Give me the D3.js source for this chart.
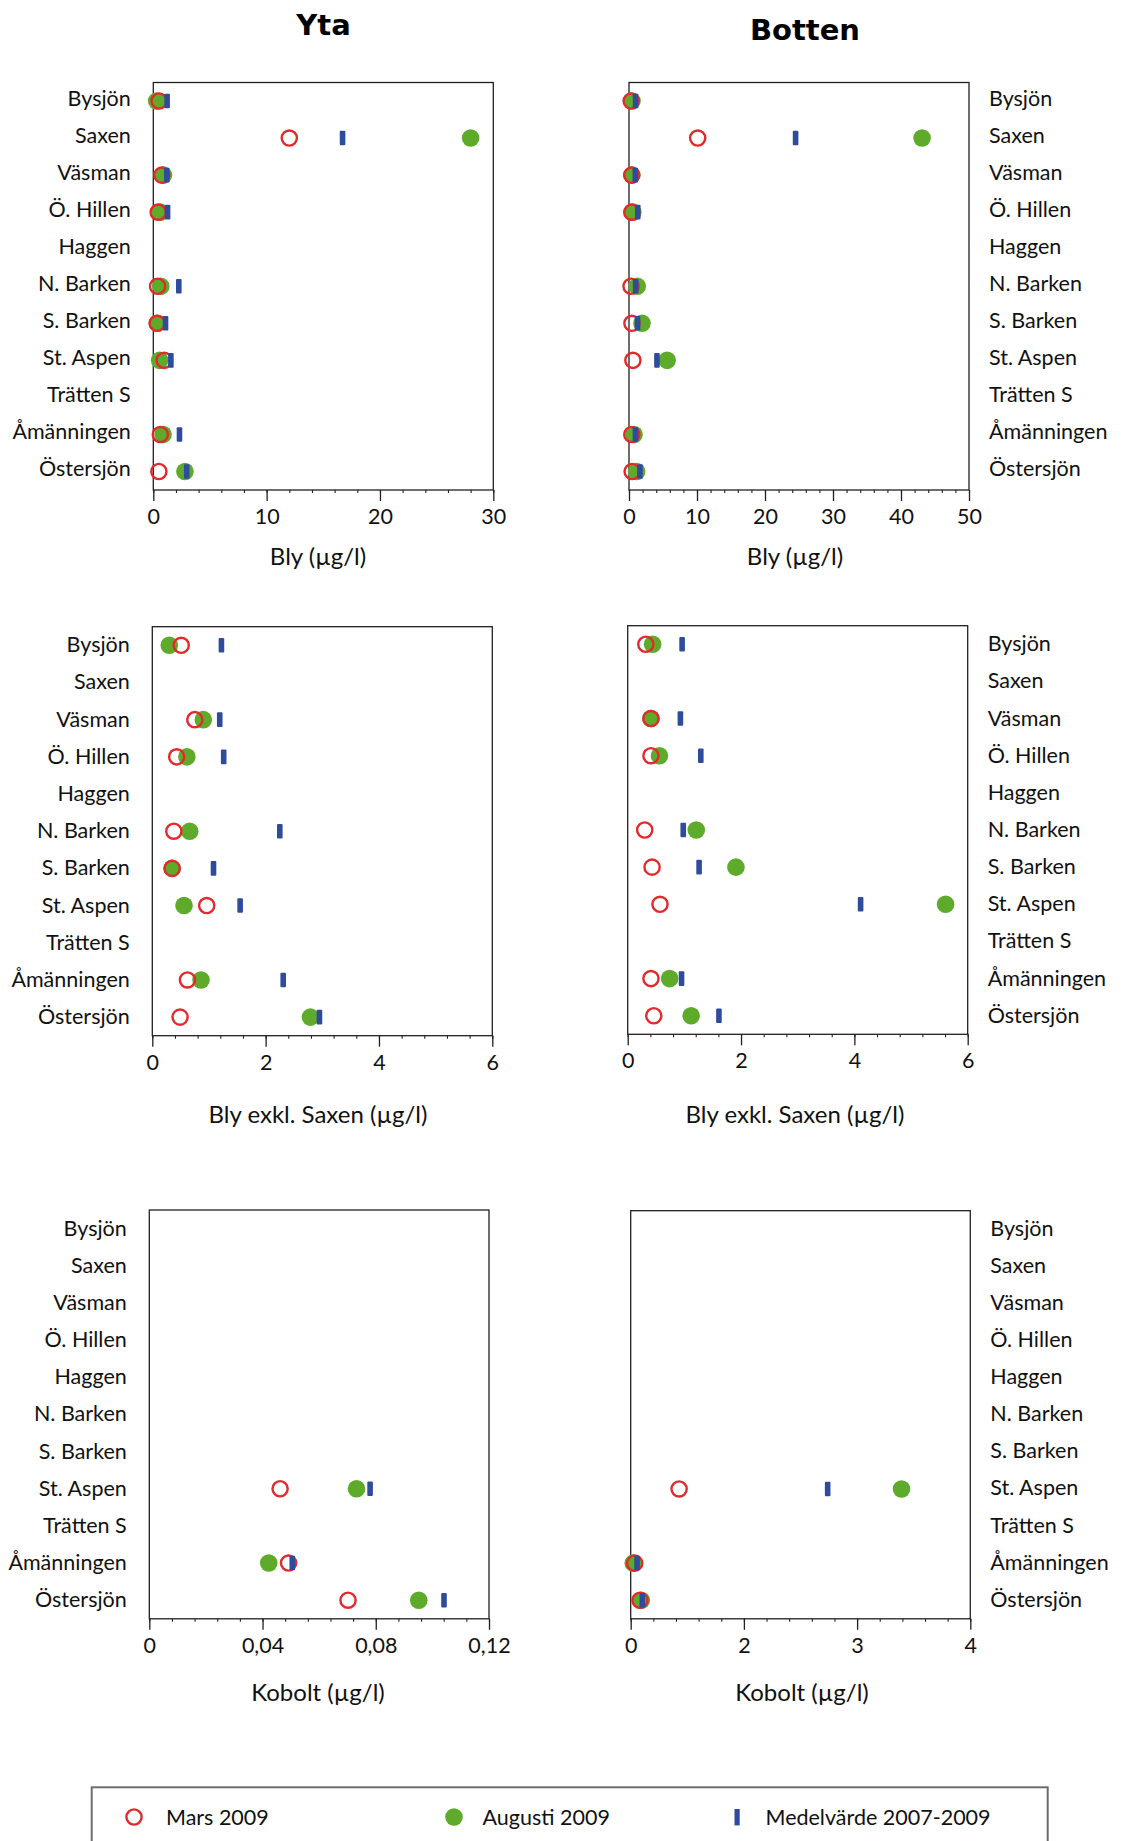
<!DOCTYPE html>
<html>
<head>
<meta charset="utf-8">
<script src="https://cdn.jsdelivr.net/npm/d3@7/dist/d3.min.js"></script>
<style>
  body { margin: 0; background: white; }
  svg { display: block; font-family: Lato, "Open Sans", sans-serif; }
</style>
</head>
<body>
<svg id="chart" width="1121" height="1841"></svg>
<script>
// lakes, top to bottom
var lakes = ["Bysjön", "Saxen", "Väsman", "Ö. Hillen", "Haggen", "N. Barken",
             "S. Barken", "St. Aspen", "Trätten S", "Åmänningen", "Östersjön"];

// Bly, yta (µg/l)
var blyYtaMars  = [0.51, 12.0, 0.75, 0.43, null, 0.38, 0.35, 0.96, null, 0.62, 0.49];
var blyYtaAug   = [0.30, 28.0, 0.90, 0.61, null, 0.66, 0.35, 0.56, null, 0.86, 2.79];
var blyYtaMedel = [1.22, 16.7, 1.19, 1.26, null, 2.25, 1.08, 1.55, null, 2.31, 2.95];

// Bly, botten (µg/l)
var blyBottenMars  = [0.32, 10.1, 0.41, 0.41, null, 0.30, 0.43, 0.57, null, 0.41, 0.46];
var blyBottenAug   = [0.44, 43.1, 0.41, 0.56, null, 1.21, 1.91, 5.61, null, 0.74, 1.12];
var blyBottenMedel = [0.96, 24.5, 0.93, 1.29, null, 0.98, 1.26, 4.11, null, 0.95, 1.61];

// Kobolt, yta (µg/l)
var koboltYtaMars  = [null, null, null, null, null, null, null, 0.0462, null, 0.0492, 0.0702];
var koboltYtaAug   = [null, null, null, null, null, null, null, 0.0732, null, 0.0422, 0.0952];
var koboltYtaMedel = [null, null, null, null, null, null, null, 0.0780, null, 0.0505, 0.1041];

// Kobolt, botten (µg/l)
var koboltBottenMars  = [null, null, null, null, null, null, null, 0.57, null, 0.047, 0.11];
var koboltBottenAug   = [null, null, null, null, null, null, null, 3.19, null, 0.03, 0.125];
var koboltBottenMedel = [null, null, null, null, null, null, null, 2.32, null, 0.075, 0.137];

// tick labels
var ticksBlyYta = ["0", "10", "20", "30"];
var ticksBlyBotten = ["0", "10", "20", "30", "40", "50"];
var ticksExkl = ["0", "2", "4", "6"];
var ticksKoboltYta = ["0", "0,04", "0,08", "0,12"];
var ticksKoboltBotten = ["0", "2", "3", "4"];

var red = "#e5282c", green = "#5eab2b", blue = "#2f4c9c";

function without_saxen(arr) {
    return arr.map(function(v, i) { return lakes[i] == "Saxen" ? null : v; });
}

var panels = [
    {left: 153.3, right: 493.3, top: 82.5, bottom: 490, max: 30, labels: ticksBlyYta,
     side: "left", labelDy: 4.5, title: "Bly (µg/l)", titleX: 318, titleY: 565,
     mars: blyYtaMars, aug: blyYtaAug, medel: blyYtaMedel},
    {left: 629, right: 969, top: 82.5, bottom: 490, max: 50, labels: ticksBlyBotten,
     side: "right", labelDy: 4.5, title: "Bly (µg/l)", titleX: 795, titleY: 565,
     mars: blyBottenMars, aug: blyBottenAug, medel: blyBottenMedel},
    {left: 152.3, right: 492.3, top: 626.7, bottom: 1035.7, max: 6, labels: ticksExkl,
     side: "left", labelDy: 7, title: "Bly exkl. Saxen (µg/l)", titleX: 318, titleY: 1123,
     mars: without_saxen(blyYtaMars), aug: without_saxen(blyYtaAug), medel: without_saxen(blyYtaMedel)},
    {left: 627.7, right: 967.7, top: 625.7, bottom: 1034.3, max: 6, labels: ticksExkl,
     side: "right", labelDy: 7, title: "Bly exkl. Saxen (µg/l)", titleX: 795, titleY: 1123,
     mars: without_saxen(blyBottenMars), aug: without_saxen(blyBottenAug), medel: without_saxen(blyBottenMedel)},
    {left: 149.3, right: 489, top: 1210, bottom: 1618.8, max: 0.12, labels: ticksKoboltYta,
     side: "left", labelDy: 7, title: "Kobolt (µg/l)", titleX: 318, titleY: 1701,
     mars: koboltYtaMars, aug: koboltYtaAug, medel: koboltYtaMedel},
    {left: 630.7, right: 970.3, top: 1210.7, bottom: 1618.8, max: 4, labels: ticksKoboltBotten,
     side: "right", labelDy: 6.5, title: "Kobolt (µg/l)", titleX: 802, titleY: 1701,
     mars: koboltBottenMars, aug: koboltBottenAug, medel: koboltBottenMedel}
];

var svg = d3.select("#chart");

svg.append("text").attr("x", 323.5).attr("y", 35).attr("text-anchor", "middle")
    .style("font-family", "'DejaVu Sans', sans-serif")
    .style("font-size", "29px").style("font-weight", "bold").text("Yta");
svg.append("text").attr("x", 805).attr("y", 40).attr("text-anchor", "middle")
    .style("font-family", "'DejaVu Sans', sans-serif")
    .style("font-size", "29px").style("font-weight", "bold").text("Botten");

function draw_panel(p) {
    var g = svg.append("g");
    var x = d3.scaleLinear().domain([0, p.max]).range([p.left, p.right]);
    var y = d3.scalePoint().domain(lakes).range([p.top, p.bottom]).padding(0.5);

    var nMajor = p.labels.length - 1;
    var majors = d3.range(nMajor + 1).map(function(i) { return p.max * i / nMajor; });
    var minors = d3.range(nMajor * 5 + 1).map(function(i) { return p.max * i / (nMajor * 5); });

    // minor ticks
    var minorAxis = g.append("g").attr("transform", "translate(0," + p.bottom + ")")
        .call(d3.axisBottom(x).tickValues(minors).tickSize(3).tickFormat(""));
    minorAxis.select(".domain").remove();

    var majorAxis = g.append("g").attr("transform", "translate(0," + p.bottom + ")")
        .call(d3.axisBottom(x).tickValues(majors).tickSize(11)
              .tickFormat(function(d, i) { return p.labels[i]; }));
    majorAxis.select(".domain").remove();
    majorAxis.selectAll("line").attr("stroke", "#231f20").attr("stroke-width", 1.3);
    minorAxis.selectAll("line").attr("stroke", "#231f20").attr("stroke-width", 1.1);
    majorAxis.selectAll("text").attr("y", 34).attr("dy", null)
        .attr("fill", "#111").style("font-size", "21.5px").style("font-family", "Lato, sans-serif");

    // frame
    g.append("rect").attr("x", p.left).attr("y", p.top)
        .attr("width", p.right - p.left).attr("height", p.bottom - p.top)
        .attr("fill", "none").attr("stroke", "#231f20").attr("stroke-width", 1.3);

    // lake labels
    g.selectAll(".lake").data(lakes).enter().append("text")
        .attr("class", "lake")
        .attr("x", p.side == "left" ? p.left - 22.5 : p.right + 20)
        .attr("y", function(d) { return y(d) + p.labelDy; })
        .attr("text-anchor", p.side == "left" ? "end" : "start")
        .style("font-size", "21.5px").attr("fill", "#111")
        .text(function(d) { return d; });

    function pts(arr) {
        return lakes.map(function(l, i) { return {lake: l, v: arr[i]}; })
            .filter(function(d) { return d.v != null; });
    }

    g.selectAll(".aug").data(pts(p.aug)).enter().append("circle")
        .attr("class", "aug")
        .attr("cx", function(d) { return x(d.v); })
        .attr("cy", function(d) { return y(d.lake); })
        .attr("r", 8.8).attr("fill", green);

    g.selectAll(".mars").data(pts(p.mars)).enter().append("circle")
        .attr("class", "mars")
        .attr("cx", function(d) { return x(d.v); })
        .attr("cy", function(d) { return y(d.lake); })
        .attr("r", 7.6).attr("fill", "none").attr("stroke", red).attr("stroke-width", 2.4);

    g.selectAll(".medel").data(pts(p.medel)).enter().append("rect")
        .attr("class", "medel")
        .attr("x", function(d) { return x(d.v) - 2.8; })
        .attr("y", function(d) { return y(d.lake) - 7.3; })
        .attr("width", 5.6).attr("height", 14.6).attr("rx", 1)
        .attr("fill", blue);

    g.append("text").attr("x", p.titleX).attr("y", p.titleY).attr("text-anchor", "middle")
        .style("font-size", "24px").attr("fill", "#111").text(p.title);
}

panels.forEach(draw_panel);

// legend
var leg = svg.append("g");
leg.append("rect").attr("x", 91.7).attr("y", 1787.3).attr("width", 956).attr("height", 100)
    .attr("fill", "none").attr("stroke", "#6d6d6d").attr("stroke-width", 2);
leg.append("circle").attr("cx", 134).attr("cy", 1817).attr("r", 7.6)
    .attr("fill", "none").attr("stroke", red).attr("stroke-width", 2.4);
leg.append("circle").attr("cx", 454).attr("cy", 1817).attr("r", 8.8).attr("fill", green);
leg.append("rect").attr("x", 734.5).attr("y", 1809).attr("width", 5.2).attr("height", 16.4).attr("fill", blue);
var legendItems = [{x: 166, t: "Mars 2009"}, {x: 482.5, t: "Augusti 2009"}, {x: 765.5, t: "Medelvärde 2007-2009"}];
leg.selectAll(".lt").data(legendItems).enter().append("text")
    .attr("class", "lt")
    .attr("x", function(d) { return d.x; }).attr("y", 1825)
    .style("font-size", "21.5px").attr("fill", "#111")
    .text(function(d) { return d.t; });
</script>
</body>
</html>
